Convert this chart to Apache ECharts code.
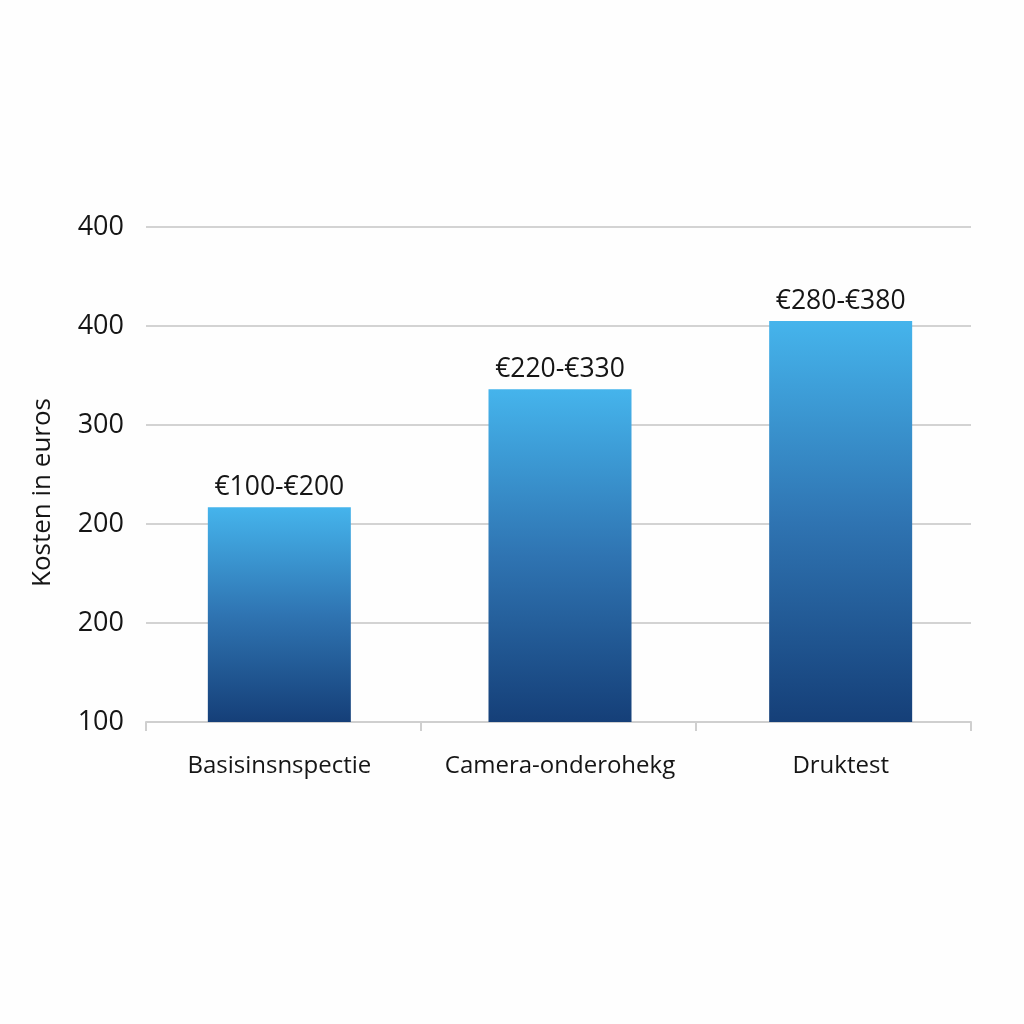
<!DOCTYPE html>
<html>
<head>
<meta charset="utf-8">
<style>
  html, body { margin: 0; padding: 0; background: #fefefe; }
  #chart { width: 1024px; height: 1024px; }
</style>
<script src="https://cdn.jsdelivr.net/npm/echarts@6/dist/echarts.min.js"></script>
</head>
<body>
<div id="chart"></div>
<script>
// data
var categories = ['Basisinsnspectie', 'Camera-onderohekg', 'Druktest'];
// the tick labels repeat in the picture, so the scale runs on tick positions
var tickLabels = ['100', '200', '200', '300', '400', '400'];
var barValues = [2.17, 3.36, 4.05];
var barLabels = ['€100-€200', '€220-€330', '€280-€380'];

var font = '"Open Sans", "Noto Sans", sans-serif';
var textColor = '#151515';
var chart = echarts.init(document.getElementById('chart'));

var option = {
  backgroundColor: '#fefefe',
  animation: false,
  // first grid: axis line, ticks and grid lines. second grid: the bars, spaced a bit wider
  grid: [
    { left: 146, right: 53, top: 227, bottom: 302 },
    { left: 139, right: 43, top: 227, bottom: 302 }
  ],
  xAxis: [{
    type: 'category',
    gridIndex: 0,
    data: categories,
    axisLine: { lineStyle: { color: '#cfcfcf', width: 2 } },
    axisTick: { show: true, interval: 0, length: 9, lineStyle: { color: '#cfcfcf', width: 2 } },
    axisLabel: { show: false }
  }, {
    type: 'category',
    gridIndex: 1,
    data: categories,
    axisLine: { show: false },
    axisTick: { show: false },
    axisLabel: { interval: 0, color: textColor, fontFamily: font, fontSize: 24, margin: 32 }
  }],
  yAxis: [{
    type: 'value',
    gridIndex: 0,
    min: 0,
    max: 5,
    interval: 1,
    name: 'Kosten in euros',
    nameLocation: 'middle',
    nameGap: 90,
    nameTextStyle: { color: textColor, fontFamily: font, fontSize: 26, padding: [0, 36, 0, 0] },
    axisLine: { show: false },
    axisTick: { show: false },
    axisLabel: {
      color: textColor,
      fontFamily: font,
      fontSize: 27,
      margin: 22,
      formatter: function (value) {
        return tickLabels[value];
      }
    },
    splitLine: { lineStyle: { color: '#d3d3d3', width: 2 } }
  }, {
    type: 'value',
    gridIndex: 1,
    min: 0,
    max: 5,
    interval: 1,
    show: false
  }],
  series: [{
    type: 'bar',
    xAxisIndex: 1,
    yAxisIndex: 1,
    data: barValues,
    barWidth: 143,
    itemStyle: {
      color: new echarts.graphic.LinearGradient(0, 0, 0, 1, [
        { offset: 0, color: '#45b4ec' },
        { offset: 0.5, color: '#2f74b2' },
        { offset: 1, color: '#153f78' }
      ])
    },
    label: {
      show: true,
      position: 'top',
      distance: 6,
      color: textColor,
      fontFamily: font,
      fontSize: 26.5,
      formatter: function (p) {
        return barLabels[p.dataIndex];
      }
    }
  }]
};

chart.setOption(option);
</script>
</body>
</html>
